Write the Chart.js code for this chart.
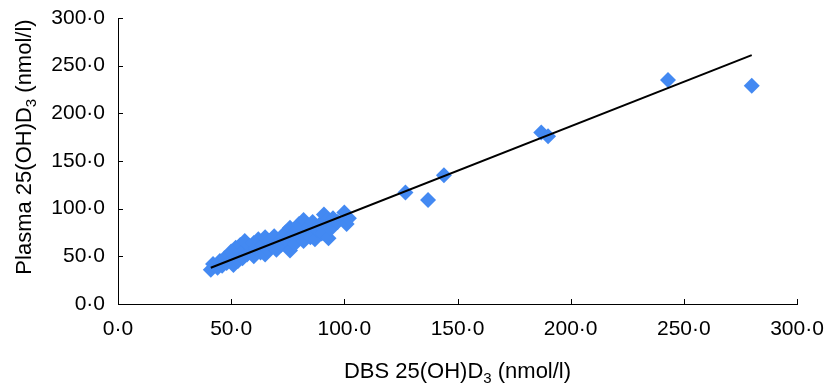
<!DOCTYPE html>
<html>
<head>
<meta charset="utf-8">
<script src="https://cdn.jsdelivr.net/npm/chart.js@4.4.0/dist/chart.umd.min.js"></script>
<style>
  html, body { margin: 0; padding: 0; background: #fff; }
  #wrap { width: 825px; height: 390px; }
</style>
</head>
<body>
<div id="wrap"><canvas id="myChart" width="825" height="390"></canvas></div>
<script>
// DBS vs plasma 25(OH)D3 (nmol/l)
const dbsValues = [
    41, 42, 44, 45, 46, 47, 48, 49, 50, 50, 51, 52, 52, 53, 54, 54, 55, 56, 56, 57,
    58, 59, 60, 60, 61, 62, 63, 64, 65, 65, 66, 67, 68, 69, 70, 71, 72, 73, 74, 75,
    76, 76, 77, 78, 79, 80, 81, 82, 82, 83, 84, 85, 86, 87, 88, 89, 90, 91, 92, 93,
    94, 95, 97, 100, 101, 102,
    127, 137, 144, 187, 190, 243, 280
];
const plasmaValues = [
    36, 42, 38, 45, 40, 48, 43, 51, 46, 55, 41, 50, 59, 45, 54, 62, 48, 57, 66, 52,
    61, 55, 64, 50, 58, 68, 54, 62, 70, 52, 58, 66, 60, 71, 57, 65, 62, 70, 75, 66,
    56, 80, 72, 63, 78, 84, 70, 88, 66, 76, 80, 70, 86, 68, 78, 83, 74, 94, 88, 69,
    79, 90, 86, 96, 84, 90,
    117, 109, 135, 180, 176, 235, 229
];
// fitted line end points, as drawn in the picture
const trendX = [41, 280];
const trendY = [38, 261];
const tickValues = [0, 50, 100, 150, 200, 250, 300];

const ctx = document.getElementById('myChart').getContext('2d');

const points = dbsValues.map((x, i) => ({ x: x, y: plasmaValues[i] }));
const trend = trendX.map((x, i) => ({ x: x, y: trendY[i] }));

function fmt(v) {
    return v.toFixed(1).replace('.', '\u00B7');
}

// drop the label overflow padding so the plot box sits where the layout padding says
function noPad(scale) {
    scale.paddingTop = 0;
    scale.paddingBottom = 0;
    scale.paddingLeft = 0;
    scale.paddingRight = 0;
}

// inward tick marks + axis titles with subscript 3
const decorPlugin = {
    id: 'decor',
    afterDraw(chart) {
        const c = chart.ctx;
        const xs = chart.scales.x, ys = chart.scales.y;
        const area = chart.chartArea;
        c.save();
        c.strokeStyle = '#000';
        c.lineWidth = 1;
        tickValues.forEach(v => {
            const px = Math.round(xs.getPixelForValue(v)) + 0.5;
            c.beginPath();
            c.moveTo(px, area.bottom);
            c.lineTo(px, area.bottom - 5);
            c.stroke();
            const py = Math.round(ys.getPixelForValue(v)) + 0.5;
            c.beginPath();
            c.moveTo(area.left, py);
            c.lineTo(area.left + 5, py);
            c.stroke();
        });

        function titleParts(parts, cx, cy) {
            const big = '22px "Liberation Sans", Arial, sans-serif';
            const small = '15px "Liberation Sans", Arial, sans-serif';
            let total = 0;
            parts.forEach(p => {
                c.font = p.sub ? small : big;
                p.w = c.measureText(p.t).width;
                total += p.w;
            });
            let x = cx - total / 2;
            c.fillStyle = '#000';
            c.textBaseline = 'alphabetic';
            c.textAlign = 'left';
            parts.forEach(p => {
                c.font = p.sub ? small : big;
                c.fillText(p.t, x, cy + (p.sub ? 5 : 0));
                x += p.w;
            });
        }

        // x title
        titleParts([
            { t: 'DBS 25(OH)D' }, { t: '3', sub: true }, { t: ' (nmol/l)' }
        ], (area.left + area.right) / 2, 378);

        // y title
        c.translate(31, 147);
        c.rotate(-Math.PI / 2);
        titleParts([
            { t: 'Plasma 25(OH)D' }, { t: '3', sub: true }, { t: ' (nmol/l)' }
        ], 0, 0);
        c.restore();
    }
};

const tickFont = { family: '"Liberation Sans", Arial, sans-serif', size: 21 };

new Chart(ctx, {
    type: 'scatter',
    data: {
        datasets: [{
            label: 'Samples',
            data: points,
            pointStyle: 'rectRot',
            pointRadius: 8,
            pointHoverRadius: 8,
            backgroundColor: '#4389F2',
            borderColor: '#4389F2',
            borderWidth: 0,
            order: 2
        }, {
            label: 'Fit',
            type: 'line',
            data: trend,
            borderColor: '#000',
            borderWidth: 2,
            pointRadius: 0,
            fill: false,
            order: 1
        }]
    },
    options: {
        responsive: false,
        animation: false,
        events: [],
        layout: { padding: { top: 18, right: 28, left: 0, bottom: 0 } },
        plugins: {
            legend: { display: false },
            tooltip: { enabled: false }
        },
        scales: {
            x: {
                type: 'linear',
                min: 0,
                max: 300,
                afterFit: scale => { scale.height = 86; noPad(scale); },
                afterBuildTicks: scale => { scale.ticks = tickValues.map(v => ({ value: v })); },
                grid: { display: false, drawTicks: false },
                border: { display: true, color: '#000', width: 1 },
                ticks: {
                    color: '#000',
                    font: tickFont,
                    padding: 13,
                    maxRotation: 0,
                    callback: v => fmt(v)
                }
            },
            y: {
                type: 'linear',
                min: 0,
                max: 300,
                afterFit: scale => { scale.width = 118; noPad(scale); },
                afterBuildTicks: scale => { scale.ticks = tickValues.map(v => ({ value: v })); },
                grid: { display: false, drawTicks: false },
                border: { display: true, color: '#000', width: 1 },
                ticks: {
                    color: '#000',
                    font: tickFont,
                    padding: 13,
                    callback: v => fmt(v)
                }
            }
        }
    },
    plugins: [decorPlugin]
});
</script>
</body>
</html>
